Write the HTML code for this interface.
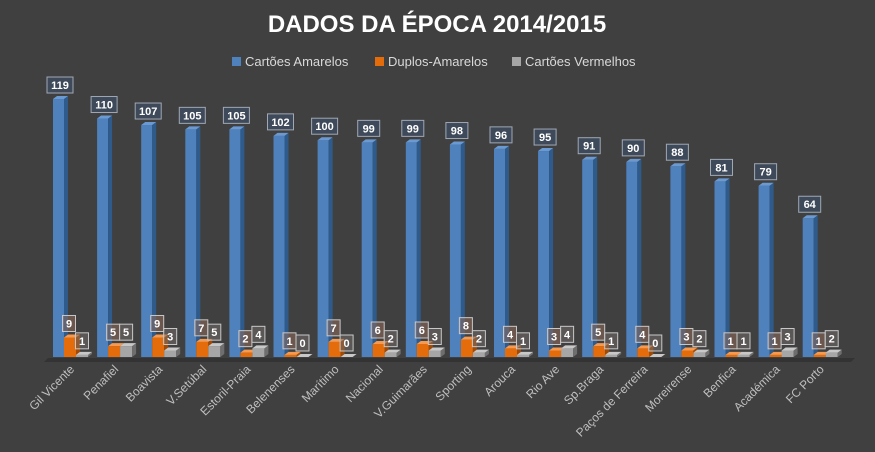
<!DOCTYPE html>
<html><head><meta charset="utf-8"><style>
html,body{margin:0;padding:0;background:#404040;}
svg{display:block;font-family:"Liberation Sans",sans-serif;}
</style></head><body>
<svg id="chart" width="875" height="452">
<text x="437" y="32" text-anchor="middle" font-size="24" font-weight="bold" fill="#fff">DADOS DA ÉPOCA 2014/2015</text>
<g id="legend"></g>
<g id="floor"></g>
<g id="bars"></g>
<g id="labels"></g>
</svg>
<script>
const categories=["Gil Vicente","Penafiel","Boavista","V.Setúbal","Estoril-Praia","Belenenses","Marítimo","Nacional","V.Guimarães","Sporting","Arouca","Rio Ave","Sp.Braga","Paços de Ferreira","Moreirense","Benfica","Académica","FC Porto"];
const amarelos=[119,110,107,105,105,102,100,99,99,98,96,95,91,90,88,81,79,64];
const duplos=[9,5,9,7,2,1,7,6,6,8,4,3,5,4,3,1,1,1];
const vermelhos=[1,5,3,5,4,0,0,2,3,2,1,4,1,0,2,1,3,2];
const seriesNames=["Cartões Amarelos","Duplos-Amarelos","Cartões Vermelhos"];

const NS="http://www.w3.org/2000/svg";
const base=357, scale=2.168, x0=53, step=44.1;
function yv(v){return base-v*scale;}
function xc(i){return x0+i*step;}
function mk(tag,attrs,parent){const e=document.createElementNS(NS,tag);for(const k in attrs)e.setAttribute(k,attrs[k]);parent.appendChild(e);return e;}

const leg=document.getElementById('legend');
const legColors=["#4f81bd","#e46c0a","#a6a6a6"];
const legX=[232,375,512];
seriesNames.forEach((n,i)=>{
  const r=mk('rect',{x:legX[i],y:57,width:9,height:9,fill:legColors[i]},leg);
  
  
  const t=mk('text',{x:legX[i]+13,y:66,'font-size':13,fill:'#d9d9d9'},leg);
  t.textContent=n;
  
  
});

const fl=document.getElementById('floor');
const f=mk('polygon',{points:"48,358 855,358 851,362 44,362",fill:"#333"},fl);



const g=document.getElementById('bars');
function bar(x,w,v,front,side,top,name){
  const y=yv(v),h=base-y;
  const grp=mk('g',{},g);
  
  
  mk('rect',{x:x,y:y,width:w,height:h,fill:front},grp);
  mk('polygon',{points:`${x+w},${y} ${x+w+4},${y-3} ${x+w+4},${base-3} ${x+w},${base}`,fill:side},grp);
  mk('polygon',{points:`${x},${y} ${x+4},${y-3} ${x+w+4},${y-3} ${x+w},${y}`,fill:top},grp);
}
function label(cx,ytop,txt,w,fill,stroke,name){
  const grp=mk('g',{},g);
  
  
  mk('rect',{x:cx-w/2,y:ytop,width:w,height:16,fill:fill,stroke:stroke,'stroke-width':1},grp);
  const t=mk('text',{x:cx,y:ytop+12,'text-anchor':'middle','font-size':11,'font-weight':'bold',fill:'#fff'},grp);
  t.textContent=txt;
}
categories.forEach((c,i)=>{
  const x=xc(i);
  bar(x,11,amarelos[i],"#4f81bd","#2f5a8c","#6b9ad2",'bar-amarelos');
  bar(x+11,12,duplos[i],"#e46c0a","#a04a05","#f59a50",'bar-duplos');
  bar(x+23,12,vermelhos[i],"#a6a6a6","#6e6e6e","#c8c8c8",'bar-vermelhos');
  const w=String(amarelos[i]).length>2?26:22;
  label(x+7,yv(amarelos[i])-22,String(amarelos[i]),w,"#3e4a5a","#a0a8b4",'label-amarelos');
  label(x+16,yv(duplos[i])-22,String(duplos[i]),13,"rgba(150,110,90,0.5)","#c8c8c8",'label-duplos');
  label(x+29,yv(vermelhos[i])-22+Math.max(0,0),String(vermelhos[i]),13,"rgba(120,110,110,0.5)","#c8c8c8",'label-vermelhos');
});

const lg=document.getElementById('labels');
categories.forEach((c,i)=>{
  const ax=xc(i)+22, ay=370;
  const t=mk('text',{x:ax,y:ay,'text-anchor':'end','font-size':12,fill:'#bfbfbf',transform:`rotate(-45 ${ax} ${ay})`},lg);
  t.textContent=c;
  
  
});
</script>
</body></html>
